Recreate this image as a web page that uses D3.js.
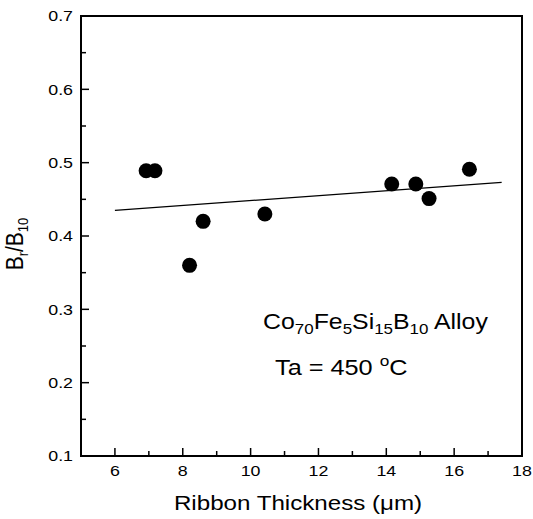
<!DOCTYPE html>
<html lang="en">
<head>
    <meta charset="UTF-8">
    <title>Br/B10 vs Ribbon Thickness</title>
    <script src="https://d3js.org/d3.v7.min.js"></script>
    <style>
        body { margin: 0; background: #fff; }
        text { font-family: "Liberation Sans", Arial, sans-serif; fill: #000; }
        .tick-label { font-size: 15.5px; }
        .axis-title { font-size: 21px; }
        .note { font-size: 22px; }
    </style>
</head>
<body>
    <svg width="533" height="519"></svg>
    <script>
        // data
        const thickness = [6.92, 7.18, 8.2, 8.6, 10.42, 14.16, 14.87, 15.26, 16.45];
        const ratio = [0.489, 0.489, 0.36, 0.42, 0.43, 0.471, 0.471, 0.451, 0.491];
        const fitX = [6.0, 17.4];
        const fitY = [0.435, 0.473];
        const xTicks = [6, 8, 10, 12, 14, 16, 18];
        const yTicks = [0.1, 0.2, 0.3, 0.4, 0.5, 0.6, 0.7];

        const width = 533, height = 519;
        const margin = {top: 16, right: 11, bottom: 63, left: 81};
        const innerWidth = width - margin.left - margin.right;
        const innerHeight = height - margin.top - margin.bottom;
        const sx = 1.15; // the scanned figure's lettering is a bit wide

        const svg = d3.select("svg");
        const chart = svg.append("g")
            .attr("transform", `translate(${margin.left}, ${margin.top})`);

        const x = d3.scaleLinear().domain([5, 18]).range([0, innerWidth]);
        const y = d3.scaleLinear().domain([0.1, 0.7]).range([innerHeight, 0]);

        // frame
        chart.append("rect")
            .attr("width", innerWidth)
            .attr("height", innerHeight)
            .attr("fill", "none")
            .attr("stroke", "#000")
            .attr("stroke-width", 2);

        // ticks pointing inward (major + minor)
        const xMinor = d3.range(5, 18.01, 1);
        chart.selectAll(".xtick")
            .data(xMinor)
            .enter().append("line")
            .attr("x1", d => x(d)).attr("x2", d => x(d))
            .attr("y1", innerHeight)
            .attr("y2", d => innerHeight - (d % 2 === 0 ? 8 : 5))
            .attr("stroke", "#000").attr("stroke-width", 1.5);

        const yMinor = d3.range(0.1, 0.701, 0.05);
        chart.selectAll(".ytick")
            .data(yMinor)
            .enter().append("line")
            .attr("y1", d => y(d)).attr("y2", d => y(d))
            .attr("x1", 0)
            .attr("x2", (d, i) => i % 2 === 0 ? 8 : 5)
            .attr("stroke", "#000").attr("stroke-width", 1.5);

        chart.selectAll(".xlab")
            .data(xTicks)
            .enter().append("text")
            .attr("class", "tick-label")
            .attr("transform", d => `translate(${x(d)}, ${innerHeight + 20}) scale(${sx}, 1)`)
            .attr("text-anchor", "middle")
            .text(d => d);

        chart.selectAll(".ylab")
            .data(yTicks)
            .enter().append("text")
            .attr("class", "tick-label")
            .attr("transform", d => `translate(-8, ${y(d)}) scale(${sx}, 1)`)
            .attr("dy", "0.35em")
            .attr("text-anchor", "end")
            .text(d => d.toFixed(1));

        // fit line
        const line = d3.line().x(d => x(d[0])).y(d => y(d[1]));
        chart.append("path")
            .datum(fitX.map((v, i) => [v, fitY[i]]))
            .attr("d", line)
            .attr("fill", "none")
            .attr("stroke", "#000")
            .attr("stroke-width", 1.3);

        // points
        chart.selectAll(".pt")
            .data(thickness)
            .enter().append("circle")
            .attr("cx", d => x(d))
            .attr("cy", (d, i) => y(ratio[i]))
            .attr("r", 7.5)
            .attr("fill", "#000");

        // axis titles
        svg.append("text")
            .attr("class", "axis-title")
            .attr("transform", `translate(298, 510) scale(${sx}, 1)`)
            .attr("text-anchor", "middle")
            .text("Ribbon Thickness (\u03bcm)");

        const yt = svg.append("text")
            .attr("class", "axis-title")
            .attr("font-size", 19)
            .attr("transform", `translate(23, 244) scale(${sx}, 1) rotate(-90)`)
            .attr("text-anchor", "middle");
        yt.append("tspan").text("B");
        yt.append("tspan").attr("font-size", 13).attr("dy", 4).text("r");
        yt.append("tspan").attr("dy", -4).text("/B");
        yt.append("tspan").attr("font-size", 13).attr("dy", 4).text("10");

        // annotation
        const note = svg.append("text")
            .attr("class", "note")
            .attr("transform", `translate(263, 329) scale(${sx - 0.02}, 1)`);
        [["Co", null], ["70", 1], ["Fe", null], ["5", 1], ["Si", null], ["15", 1], ["B", null], ["10", 1], [" Alloy", null]]
            .forEach((p, i, arr) => {
                const prevSub = i > 0 && arr[i - 1][1];
                const t = note.append("tspan").text(p[0]);
                if (p[1]) t.attr("font-size", 15).attr("dy", prevSub ? 0 : 5);
                else if (prevSub) t.attr("dy", -5);
            });

        const note2 = svg.append("text")
            .attr("class", "note")
            .attr("transform", `translate(275, 375) scale(${sx}, 1)`);
        note2.append("tspan").text("Ta = 450 ");
        note2.append("tspan").attr("font-size", 15).attr("dy", -9).text("o");
        note2.append("tspan").attr("dy", 9).text("C");
    </script>
</body>
</html>
